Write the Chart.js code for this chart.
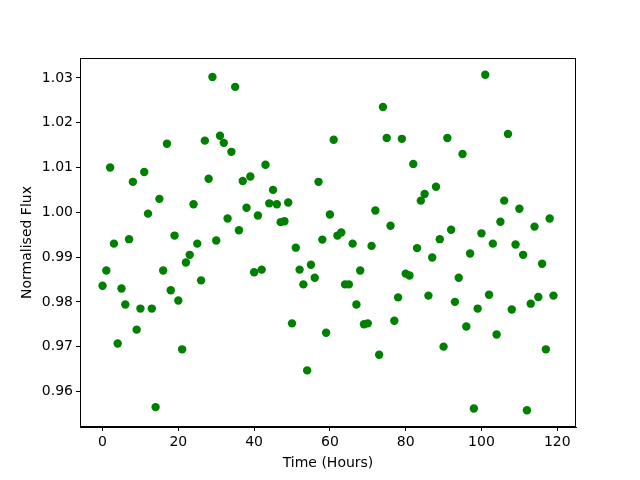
<!DOCTYPE html>
<html>
<head>
<meta charset="utf-8">
<script src="https://cdn.jsdelivr.net/npm/chart.js@4/dist/chart.umd.min.js"></script>
<style>
html,body{margin:0;padding:0;background:#fff;}
#wrap{width:640px;height:480px;}
</style>
</head>
<body>
<div id="wrap"><canvas id="c" width="640" height="480"></canvas></div>
<script>
const hours = Array.from({length:120},(_, i) => i);
const flux = [
0.9836,0.9870,1.0100,0.9930,0.9707,0.9830,0.9794,0.9940,1.0068,0.9738,
0.9785,1.0090,0.9997,0.9785,0.9565,1.0030,0.9870,1.0153,0.9826,0.9948,
0.9803,0.9694,0.9888,0.9905,1.0018,0.9930,0.9848,1.0160,1.0075,1.0302,
0.9937,1.0171,1.0155,0.9986,1.0135,1.0280,0.9960,1.0070,1.0010,1.0080,
0.9866,0.9993,0.9872,1.0106,1.0020,1.0050,1.0018,0.9978,0.9980,1.0022,
0.9752,0.9921,0.9872,0.9839,0.9647,0.9883,0.9854,1.0068,0.9939,0.9731,
0.9995,1.0162,0.9948,0.9955,0.9839,0.9839,0.9930,0.9794,0.9870,0.9750,
0.9752,0.9925,1.0004,0.9682,1.0235,1.0166,0.9970,0.9758,0.9810,1.0164,
0.9863,0.9859,1.0108,0.9920,1.0026,1.0041,0.9814,0.9899,1.0057,0.9940,
0.9700,1.0166,0.9961,0.9800,0.9854,1.0130,0.9745,0.9908,0.9562,0.9785,
0.9953,1.0307,0.9816,0.9930,0.9727,0.9979,1.0026,1.0175,0.9783,0.9928,
1.0008,0.9905,0.9558,0.9796,0.9968,0.9811,0.9885,0.9694,0.9986,0.9814
];
const xTicks = [0,20,40,60,80,100,120];
const yTicks = [0.96,0.97,0.98,0.99,1.00,1.01,1.02,1.03];

const font = {family:'"DejaVu Sans", sans-serif', size:14};
const boxPlugin = {
  id:'box',
  afterDatasetsDraw(chart){
    const {ctx, chartArea:a} = chart;
    ctx.save();
    ctx.strokeStyle='#000'; ctx.lineWidth=1;
    ctx.strokeRect(Math.round(a.left)+0.5, Math.round(a.top)+0.5, Math.round(a.right-a.left)-1, Math.round(a.bottom-a.top)-1);
    ctx.restore();
  }
};

new Chart(document.getElementById('c'), {
  type:'scatter',
  data:{datasets:[{
    data: hours.map((h,i)=>({x:h,y:flux[i]})),
    backgroundColor:'#008000', borderColor:'#008000',
    pointRadius:4.2, pointHoverRadius:4.2, borderWidth:0
  }]},
  options:{
    responsive:false, animation:false,
    layout:{padding:{top:58,right:64,left:0,bottom:0}},
    plugins:{legend:{display:false}, tooltip:{enabled:false}},
    scales:{
      x:{
        type:'linear', min:-5.95, max:124.95,
        afterBuildTicks:s=>{s.ticks = xTicks.map(v=>({value:v}));},
        afterFit:s=>{s.height=53;},
        grid:{display:true, drawOnChartArea:false, drawTicks:true, tickLength:4, color:'#000'},
        border:{display:true, color:'#000'},
        ticks:{color:'#000', font, padding:3, maxRotation:0, callback:v=>String(v)},
        title:{display:true, text:'Time (Hours)', color:'#000', font, padding:{top:0,bottom:8}}
      },
      y:{
        type:'linear', min:0.95206, max:1.03445,
        afterBuildTicks:s=>{s.ticks = yTicks.map(v=>({value:v}));},
        afterFit:s=>{s.width=80;},
        grid:{display:true, drawOnChartArea:false, drawTicks:true, tickLength:4, color:'#000'},
        border:{display:true, color:'#000'},
        ticks:{color:'#000', font, padding:3, callback:v=>v.toFixed(2)},
        title:{display:true, text:'Normalised Flux', color:'#000', font, padding:{top:19,bottom:0}}
      }
    }
  },
  plugins:[boxPlugin]
});
</script>
</body>
</html>
